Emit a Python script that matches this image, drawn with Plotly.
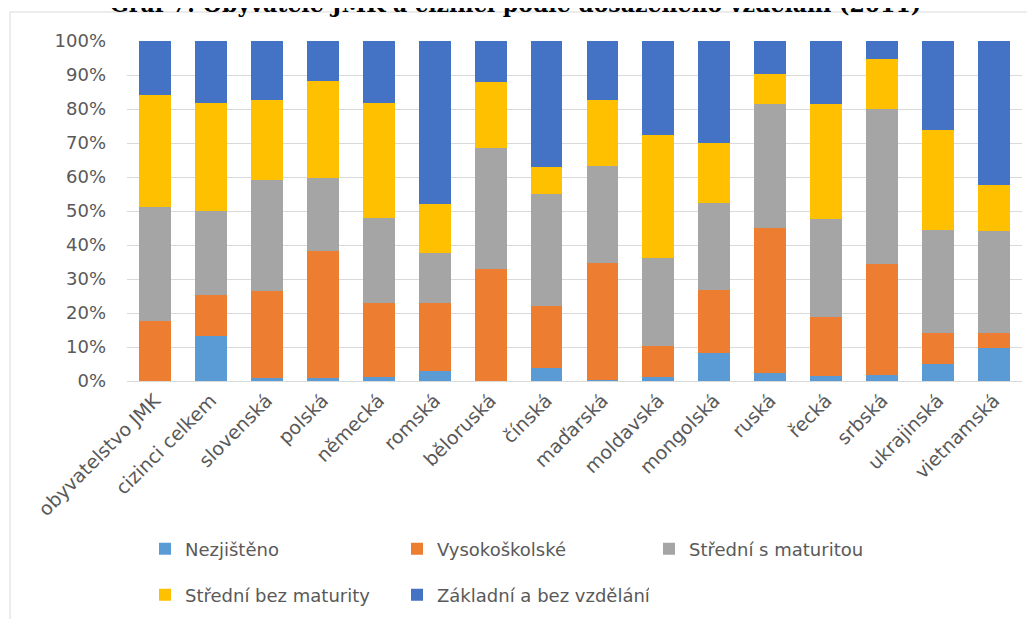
import plotly.graph_objects as go

categories = ["obyvatelstvo JMK", "cizinci celkem", "slovenská", "polská", "německá",
              "romská", "běloruská", "čínská", "maďarská", "moldavská", "mongolská",
              "ruská", "řecká", "srbská", "ukrajinská", "vietnamská"]

nezjisteno     = [0.0, 13.2, 0.8, 0.8, 1.2, 3.0, 0.0, 3.7, 0.4, 1.2, 8.2, 2.3, 1.6, 1.9, 5.0, 9.8]
vysokoskolske  = [17.6, 12.1, 25.6, 37.4, 21.8, 20.0, 32.8, 18.5, 34.3, 9.0, 18.6, 42.6, 17.3, 32.5, 9.0, 4.2]
stredni_s_mat  = [33.7, 24.8, 32.8, 21.4, 24.9, 14.7, 35.8, 32.8, 28.6, 26.0, 25.7, 36.6, 28.7, 45.6, 30.5, 30.1]
stredni_bez    = [32.8, 31.8, 23.4, 28.6, 34.0, 14.4, 19.3, 7.9, 19.3, 36.2, 17.6, 8.7, 33.9, 14.7, 29.4, 13.6]
zakladni       = [15.9, 18.1, 17.4, 11.8, 18.1, 47.9, 12.1, 37.1, 17.4, 27.6, 29.9, 9.8, 18.5, 5.3, 26.1, 42.3]

series_names = ["Nezjištěno", "Vysokoškolské", "Střední s maturitou",
                "Střední bez maturity", "Základní a bez vzdělání"]
series_values = [nezjisteno, vysokoskolske, stredni_s_mat, stredni_bez, zakladni]
colors = ["#5B9BD5", "#ED7D31", "#A5A5A5", "#FFC000", "#4472C4"]
legend_ids = ["legend", "legend", "legend", "legend2", "legend2"]

title_text = "Graf 7: Obyvatelé JMK a cizinci podle dosaženého vzdělání (2011)"

# page offset caused by default body margin of the html page
OFF = 8
W, H = 1035 - OFF, 619 - OFF
L, R, T = 127 - OFF, 13, 41 - OFF
PH = 340
B = H - T - PH
PW = W - L - R

def px_x(p):
    return (p - OFF - L) / PW

def px_y(p):
    return (H - B - (p - OFF)) / PH

FONT = "DejaVu Sans"
TXT = "#595959"

fig = go.Figure()
for name, vals, col, lg in zip(series_names, series_values, colors, legend_ids):
    fig.add_trace(go.Bar(
        x=categories, y=vals, name=name, marker=dict(color=col, line=dict(width=0)),
        legend=lg,
    ))

legend_common = dict(
    orientation="h", xanchor="left", yanchor="middle",
    font=dict(family=FONT, size=18, color=TXT),
    bgcolor="rgba(0,0,0,0)", entrywidth=207, entrywidthmode="pixels",
    itemclick=False, itemdoubleclick=False, traceorder="normal",
)

fig.update_layout(
    width=W, height=H,
    margin=dict(l=L, r=R, t=T, b=B, autoexpand=False),
    barmode="stack", bargap=0.43,
    plot_bgcolor="white", paper_bgcolor="white",
    font=dict(family=FONT, size=18, color=TXT),
    showlegend=True,
    legend=dict(x=px_x(145), y=px_y(549), **legend_common),
    legend2=dict(x=px_x(145), y=px_y(595), **legend_common),
    xaxis=dict(
        tickangle=-45, tickfont=dict(family=FONT, size=19, color=TXT),
        showgrid=False, showline=True, linecolor="#D9D9D9", linewidth=1,
        ticks="", automargin=False, fixedrange=True,
    ),
    yaxis=dict(
        range=[0, 100], dtick=10, ticksuffix="%",
        tickfont=dict(family=FONT, size=18, color=TXT),
        showgrid=True, gridcolor="#D9D9D9", gridwidth=1,
        zeroline=False, showline=False, ticks="", ticklabelstandoff=20,
        automargin=False, fixedrange=True,
    ),
    shapes=[
        dict(type="line", xref="paper", yref="paper",
             x0=px_x(10), x1=px_x(1040), y0=px_y(12), y1=px_y(12),
             line=dict(color="#D9D9D9", width=1)),
        dict(type="line", xref="paper", yref="paper",
             x0=px_x(10), x1=px_x(10), y0=px_y(12), y1=px_y(625),
             line=dict(color="#D9D9D9", width=1)),
    ],
    annotations=[
        dict(text="<b>" + title_text + "</b>", xref="paper", yref="paper",
             x=px_x(515), y=px_y(4), xanchor="center", yanchor="middle",
             showarrow=False,
             font=dict(family="DejaVu Serif", size=22, color="#000000")),
    ],
)

fig.write_html("out.html")
